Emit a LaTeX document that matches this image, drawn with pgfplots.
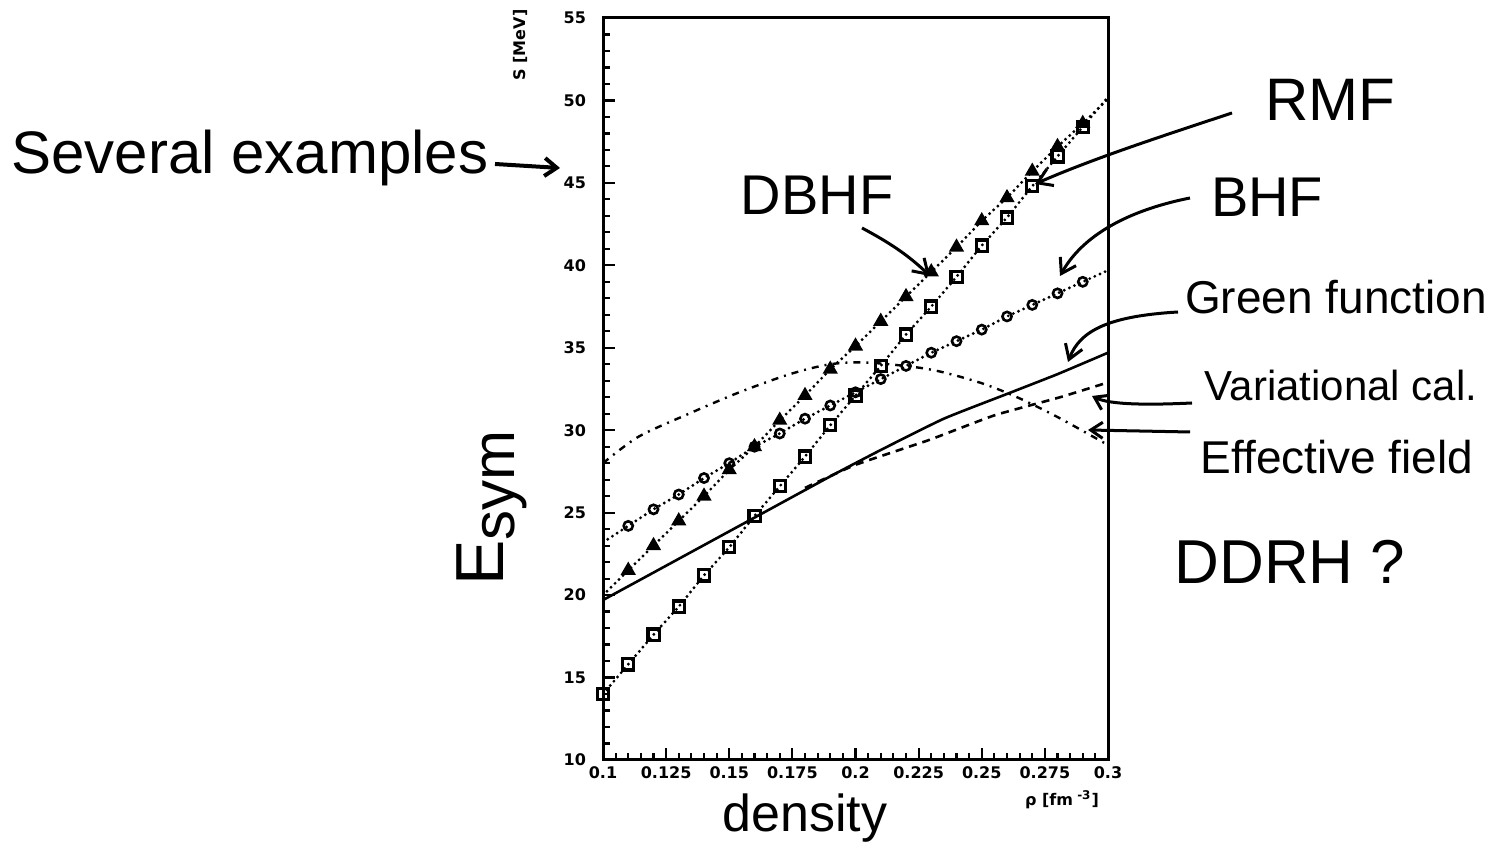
\documentclass[border=0pt]{standalone}
\usepackage{fontspec}
\setmainfont{Liberation Sans}
\newfontfamily\tickfont{DejaVu Sans}
\usepackage{pgfplots}
\pgfplotsset{compat=1.18}
\usetikzlibrary{arrows.meta}

\begin{document}
\begin{tikzpicture}
\path[use as bounding box] (0,0) rectangle (754pt,427.5pt);
\begin{axis}[
  at={(301.5pt,47.5pt)}, anchor=south west,
  scale only axis, width=252.5pt, height=371pt,
  xmin=0.1, xmax=0.3, ymin=10, ymax=55,
  xtick={0.1,0.125,0.15,0.175,0.2,0.225,0.25,0.275,0.3},
  xticklabels={0.1,0.125,0.15,0.175,0.2,0.225,0.25,0.275,0.3},
  minor x tick num=4,
  ytick={10,15,20,25,30,35,40,45,50,55},
  yticklabels={10,15,20,25,30,35,40,45,50,55},
  minor y tick num=4,
  tick align=inside, xtick pos=bottom, ytick pos=left,
  major tick length=6pt, minor tick length=3.5pt,
  axis line style={line width=1.5pt},
  every tick/.style={line width=1.1pt, black},
  tick label style={font=\tickfont\bfseries\fontsize{8}{9}\selectfont},
  yticklabel style={xshift=-5pt},
  /pgf/number format/assume math mode=true,
  dotline/.style={black, line cap=round, line width=1.6pt, dash pattern=on 0pt off 2.8pt},
]
% DBHF (triangles)
\addplot[dotline, mark=triangle*, mark size=3.6pt, mark options={solid, fill=black, line width=0.8pt}, mark indices={2,...,20}]
coordinates {(0.10,20.0)(0.11,21.5)(0.12,23.0)(0.13,24.5)(0.14,26.0)(0.15,27.6)(0.16,29.0)(0.17,30.6)(0.18,32.1)(0.19,33.7)(0.20,35.1)(0.21,36.6)(0.22,38.1)(0.23,39.6)(0.24,41.1)(0.25,42.7)(0.26,44.1)(0.27,45.7)(0.28,47.2)(0.29,48.6)(0.30,50.1)};
% RMF (squares)
\addplot[dotline, mark=square, mark size=2.8pt, mark options={solid, line width=1.6pt}, mark indices={1,...,20}]
coordinates {(0.10,14.0)(0.11,15.8)(0.12,17.6)(0.13,19.3)(0.14,21.2)(0.15,22.9)(0.16,24.8)(0.17,26.6)(0.18,28.4)(0.19,30.3)(0.20,32.1)(0.21,33.9)(0.22,35.8)(0.23,37.5)(0.24,39.3)(0.25,41.2)(0.26,42.9)(0.27,44.8)(0.28,46.6)(0.29,48.4)(0.30,50.2)};
% BHF (circles)
\addplot[dotline, mark=o, mark size=2.3pt, mark options={solid, line width=1.3pt}, mark indices={2,...,20}]
coordinates {(0.10,23.2)(0.11,24.2)(0.12,25.2)(0.13,26.1)(0.14,27.1)(0.15,28.0)(0.16,29.0)(0.17,29.8)(0.18,30.7)(0.19,31.5)(0.20,32.3)(0.21,33.1)(0.22,33.9)(0.23,34.7)(0.24,35.4)(0.25,36.1)(0.26,36.9)(0.27,37.6)(0.28,38.3)(0.29,39.0)(0.30,39.7)};
% Green function (solid)
\addplot[black, line width=1.3pt, smooth, tension=0.3]
coordinates {(0.10,19.7)(0.13,22.2)(0.16,24.7)(0.19,27.2)(0.21,28.8)(0.235,30.7)(0.26,32.2)(0.28,33.4)(0.30,34.7)};
% Variational (dashed)
\addplot[black, line width=1.3pt, dash pattern=on 4pt off 3pt, smooth, tension=0.3]
coordinates {(0.18,26.5)(0.20,27.9)(0.229,29.4)(0.255,30.9)(0.281,32.0)(0.30,32.9)};
% Effective field (dash-dot)
\addplot[black, line width=1.2pt, dash pattern=on 3.5pt off 3pt on 1pt off 3pt, smooth, tension=0.5]
coordinates {(0.10,28.0)(0.114,29.6)(0.134,31.0)(0.154,32.3)(0.174,33.4)(0.19,34.0)(0.205,34.1)(0.229,33.7)(0.249,32.9)(0.264,32.0)(0.28,30.8)(0.30,29.1)};
\end{axis}

\begin{scope}[x=0.5pt, y=-0.5pt, yshift=427.5pt]
  \node[font=\tickfont\bfseries\fontsize{8}{9}\selectfont, rotate=90] at (520,45) {S [MeV]};
  \node[font=\tickfont\bfseries\fontsize{8}{9}\selectfont] at (1062,800) {ρ [fm\textsuperscript{ -3}]};
  % handwritten annotations
  \node[font=\fontsize{30}{32}\selectfont] at (250,158) {Several examples};
  \draw[line width=2pt, -{Straight Barb[length=6pt,width=9pt]}] (495,164) -- (560,168);
  \node[font=\fontsize{28}{30}\selectfont] at (817,195) {DBHF};
  \draw[line width=1.5pt, -{Straight Barb[length=7pt,width=9pt]}] (862,228) .. controls (890,243) and (908,255) .. (930,276);
  \node[font=\fontsize{30}{32}\selectfont] at (1330,100) {RMF};
  \draw[line width=1.5pt, -{Straight Barb[length=7pt,width=9pt]}] (1232,113) .. controls (1150,140) and (1090,160) .. (1035,184);
  \node[font=\fontsize{28}{30}\selectfont] at (1267,197) {BHF};
  \draw[line width=1.5pt, -{Straight Barb[length=7pt,width=9pt]}] (1190,198) .. controls (1120,212) and (1080,240) .. (1060,276);
  \node[font=\fontsize{23}{25}\selectfont] at (1336,297) {Green function};
  \draw[line width=1.5pt, -{Straight Barb[length=7pt,width=9pt]}] (1178,312) .. controls (1110,316) and (1080,330) .. (1068,362);
  \node[font=\fontsize{21}{23}\selectfont] at (1341,385) {Variational cal.};
  \draw[line width=1.5pt, -{Straight Barb[length=6pt,width=8pt]}] (1192,403) .. controls (1150,405) and (1110,405) .. (1092,396);
  \node[font=\fontsize{23}{25}\selectfont] at (1337,457) {Effective field};
  \draw[line width=1.5pt, -{Straight Barb[length=6pt,width=8pt]}] (1190,432) -- (1088,430);
  \node[font=\fontsize{31}{33}\selectfont] at (1290,562) {DDRH ?};
  \node[font=\fontsize{26}{28}\selectfont] at (805,818) {density};
  \node[rotate=90, font=\fontsize{34}{36}\selectfont] at (492,508) {E{\fontsize{30}{32}\selectfont\raisebox{-0.35ex}{sym}}};
\end{scope}
\end{tikzpicture}
\end{document}
